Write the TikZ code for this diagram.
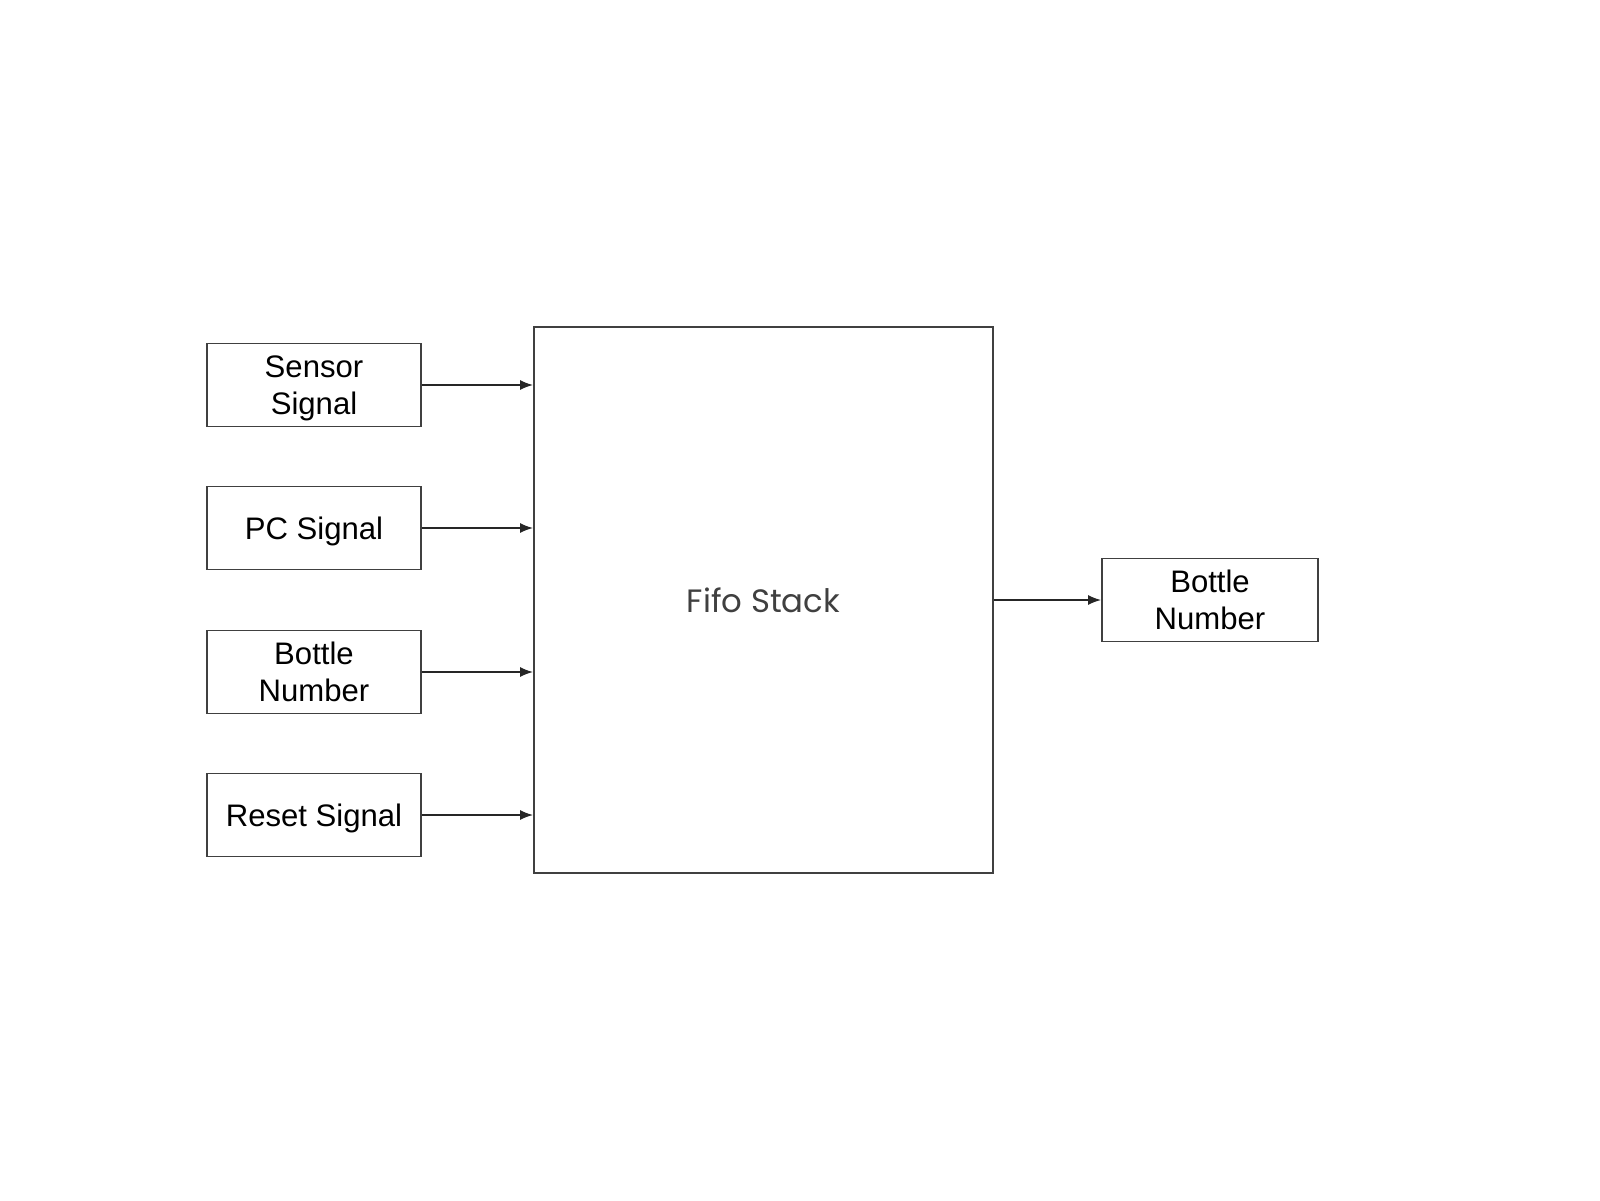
\documentclass[tikz,border=0pt]{standalone}
\usepackage{fontspec}
\setmainfont{Liberation Sans}
\newfontfamily\stackfont{Poppins}
\usetikzlibrary{positioning,arrows.meta,calc}

\begin{document}
\begin{tikzpicture}[
  font=\fontsize{8.85}{10.5}\selectfont,
  sigbox/.style={draw=black!75, line width=0.5pt, minimum width=2.14cm, minimum height=0.83cm, align=center, inner sep=1pt, text depth=0pt},
  feed/.style={draw=black!85, line width=0.5pt, -{Latex[length=1.3mm,width=1mm]}}
]
\useasboundingbox (0,0) rectangle (16,12);
\node[draw=black!75, line width=0.5pt, minimum width=4.59cm, minimum height=5.46cm,
  font=\stackfont\fontsize{9.2}{11}\selectfont, text=black!75] (fifo) at (7.635,6) {Fifo Stack};
\node[sigbox] (sensor) at (3.14,8.15) {Sensor\\Signal};
\node[sigbox] (pc) at (3.14,6.72) {PC Signal};
\node[sigbox] (bottlein) at (3.14,5.28) {Bottle\\Number};
\node[sigbox] (reset) at (3.14,3.85) {Reset Signal};
\node[sigbox, minimum width=2.16cm] (bottleout) at (12.10,6) {Bottle\\Number};
\foreach \src in {sensor,pc,bottlein,reset}
  \draw[feed] (\src.east) -- (\src.east -| fifo.west);
\draw[feed] (fifo.east) -- (bottleout.west);
\end{tikzpicture}
\end{document}
